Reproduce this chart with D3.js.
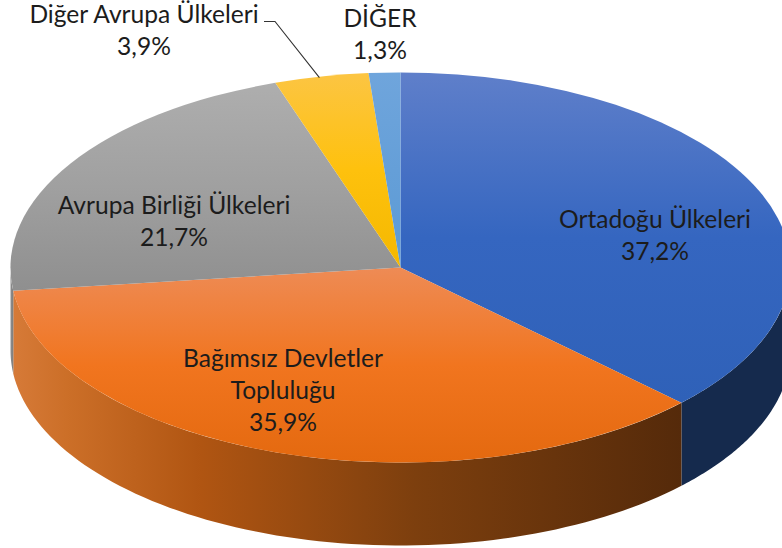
<!DOCTYPE html>
<html><head><meta charset="utf-8">
<script src="https://cdn.jsdelivr.net/npm/d3@7/dist/d3.min.js"></script>
<style>html,body{margin:0;padding:0;background:#fff;overflow:hidden}svg{display:block}text{font-family:Lato,"Open Sans",sans-serif;font-size:24.6px;fill:#1c1c1c}</style>
</head><body><svg id="c" width="782" height="548"></svg>
<script>
const categories=["Ortadoğu Ülkeleri","Bağımsız Devletler Topluluğu","Avrupa Birliği Ülkeleri","Diğer Avrupa Ülkeleri","DİĞER"];
const values=[37.2,35.9,21.7,3.9,1.3];
const valueLabels=["37,2%","35,9%","21,7%","3,9%","1,3%"];
const labelLines=[["Ortadoğu Ülkeleri","37,2%"],["Bağımsız Devletler","Topluluğu","35,9%"],["Avrupa Birliği Ülkeleri","21,7%"],["Diğer Avrupa Ülkeleri","3,9%"],["DİĞER","1,3%"]];
const labelPos=[[655,228],[283,367],[174,214],[144,23],[380,27]];
const labelGap=[32,32,32,32,32];
const topColors=[["#5f7fca","#3566c0","#2f61b8"],["#ee8b55","#f1751f","#e4690f"],["#aeaeae","#a0a0a0","#8f8f8f"],["#fcc543","#fec10d","#f4b800"],["#6fa5dc","#659fd8","#5b9bd5"]];
const wallColors=[["#152a4d","#152a4d"],["#d67a38","#cc6f28","#b05512","#7d3f0e","#552a0a"],["#8f8f8f","#7d7d7d"],["#b88a00","#b88a00"],["#3f6f9f","#3f6f9f"]];
const wallStops=[[0,1],[0,0.08,0.28,0.6,1],[0,1],[0,1],[0,1]];

const cx=400.5,cy=267.5,rx=390,ry=195,depth=83;
const sx=d3.scaleLinear().domain([-1,1]).range([cx-rx,cx+rx]);
const sy=d3.scaleLinear().domain([-1,1]).range([cy-ry,cy+ry]);
const svg=d3.select("#c");
const defs=svg.append("defs");
const slices=d3.pie().sort(null).value(d=>d)(values);
const px=a=>sx(Math.sin(a)), py=a=>sy(-Math.cos(a));

topColors.forEach((c,i)=>{
  const g=defs.append("linearGradient").attr("id","t"+i).attr("x1",0).attr("y1",0).attr("x2",0).attr("y2",1);
  c.forEach((s,k)=>g.append("stop").attr("offset",k/2).attr("stop-color",s));
});
wallColors.forEach((c,i)=>{
  const g=defs.append("linearGradient").attr("id","w"+i).attr("x1",0).attr("y1",0).attr("x2",1).attr("y2",0);
  c.forEach((s,k)=>g.append("stop").attr("offset",wallStops[i][k]).attr("stop-color",s));
});

// side walls (only the front half of the ellipse is visible)
const wall=d3.line();
slices.forEach((s,i)=>{
  const a0=Math.max(s.startAngle,Math.PI/2), a1=Math.min(s.endAngle,3*Math.PI/2);
  if(a1<=a0) return;
  const n=80, angles=d3.range(n+1).map(k=>a0+(a1-a0)*k/n);
  const pts=angles.map(a=>[px(a),py(a)]).concat(angles.slice().reverse().map(a=>[px(a),py(a)+depth]));
  svg.append("path").attr("d",wall(pts)+"Z").attr("fill",`url(#w${i})`);
});

// top faces: d3.arc on a unit circle, stretched to the ellipse
const arc=d3.arc().innerRadius(0).outerRadius(1);
const topFace=svg.append("g").attr("transform",`translate(${cx},${cy}) scale(${rx},${ry})`);
topFace.selectAll("path").data(slices).join("path")
  .attr("d",arc).attr("fill",(d,i)=>`url(#t${i})`);

// leader line
const la=(slices[3].startAngle+slices[3].endAngle)/2;
svg.append("path").attr("fill","none").attr("stroke","#333").attr("stroke-width",1.1)
  .attr("d",d3.line()([[264,21.5],[275,21.5],[px(la)-2,py(la)+1]]));

// labels
labelLines.forEach((ls,i)=>{
  ls.forEach((t,k)=>svg.append("text").attr("x",labelPos[i][0]).attr("y",labelPos[i][1]+k*labelGap[i])
    .attr("text-anchor","middle").text(t));
});
</script></body></html>
